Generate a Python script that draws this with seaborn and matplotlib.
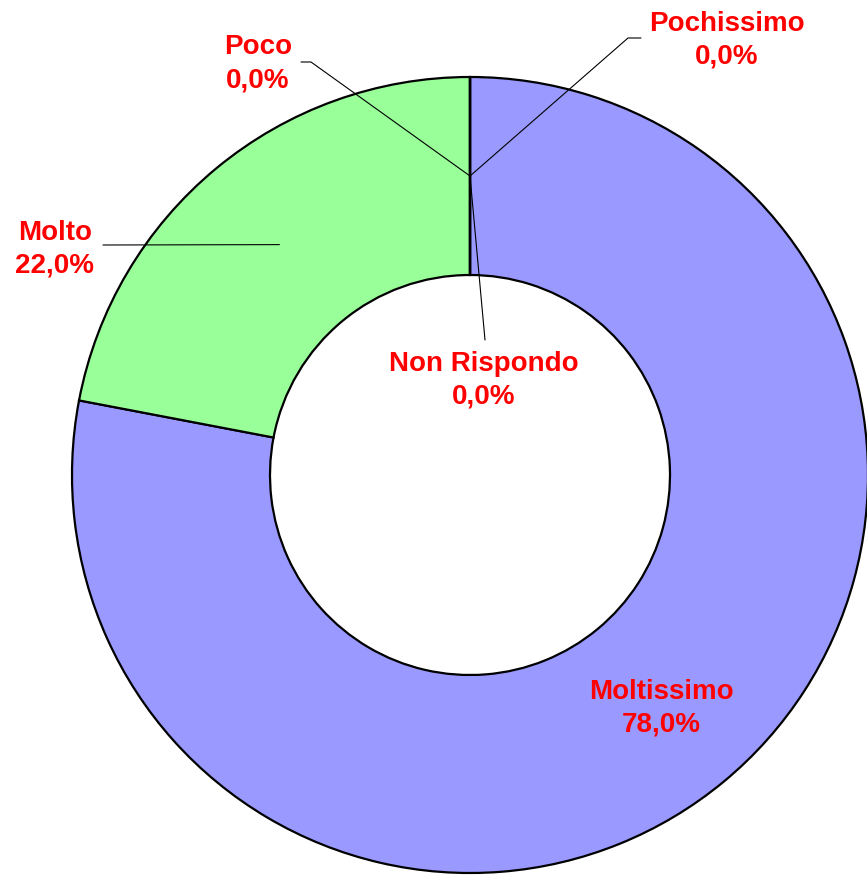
import numpy as np
import matplotlib
matplotlib.use("Agg")
import matplotlib.pyplot as plt
import seaborn as sns

# data
labels = ["Moltissimo", "Molto", "Poco", "Pochissimo", "Non Rispondo"]
values = [78.0, 22.0, 0.0, 0.0, 0.0]
colors = ["#9999FF", "#99FF99", "#FFFFFF", "#FFFFFF", "#FFFFFF"]

sns.set_theme(style="white")
plt.rcParams["font.family"] = ["Liberation Sans", "DejaVu Sans"]

W, H = 867, 875
CX, CY, R = 470, 475, 398          # pixel centre / outer radius of the ring
INNER = 200 / R


def px(x, y):
    """pixel position (from top-left) -> data coords"""
    return (x - CX) / R, (CY - y) / R


fig = plt.figure(figsize=(W / 100, H / 100), dpi=100)
ax = fig.add_axes([0, 0, 1, 1])

wedges, _ = ax.pie(
    values,
    colors=colors,
    startangle=90,
    counterclock=False,
    radius=1.0,
    wedgeprops={"width": 1 - INNER, "edgecolor": "black", "linewidth": 1.6},
)

# pie() resets the limits, so set them afterwards
ax.set_aspect("auto")
ax.set_xlim(-CX / R, (W - CX) / R)
ax.set_ylim(-(H - CY) / R, CY / R)
ax.axis("off")

# anchor for each leader line: middle of the ring at the wedge's mid angle
mid_r = (1 + INNER) / 2
anchors = []
for w in wedges:
    ang = np.deg2rad((w.theta1 + w.theta2) / 2)
    anchors.append((mid_r * np.cos(ang), mid_r * np.sin(ang)))

text_pos = {
    "Moltissimo": (661, 708),
    "Molto": (55, 249),
    "Poco": (258, 64),
    "Pochissimo": (727, 40),
    "Non Rispondo": (484, 380),
}
# leader-line elbows (pixel), drawn from the text side to the anchor
leader = {
    "Molto": [(103, 245)],
    "Poco": [(301, 62), (311, 62)],
    "Pochissimo": [(641, 38), (628, 38)],
    "Non Rispondo": [(485, 340)],
}

for name, val, anc in zip(labels, values, anchors):
    txt = f"{name}\n{val:.1f}%".replace(".", ",")
    tx, ty = px(*text_pos[name])
    ax.text(tx, ty, txt, ha="center", va="center", color="#FF0000",
            fontsize=20, fontweight="bold", linespacing=1.35)
    if name in leader:
        pts = [px(*p) for p in leader[name]] + [anc]
        xs, ys = zip(*pts)
        ax.plot(xs, ys, color="black", lw=0.8)

fig.savefig("out.png", dpi=100)
